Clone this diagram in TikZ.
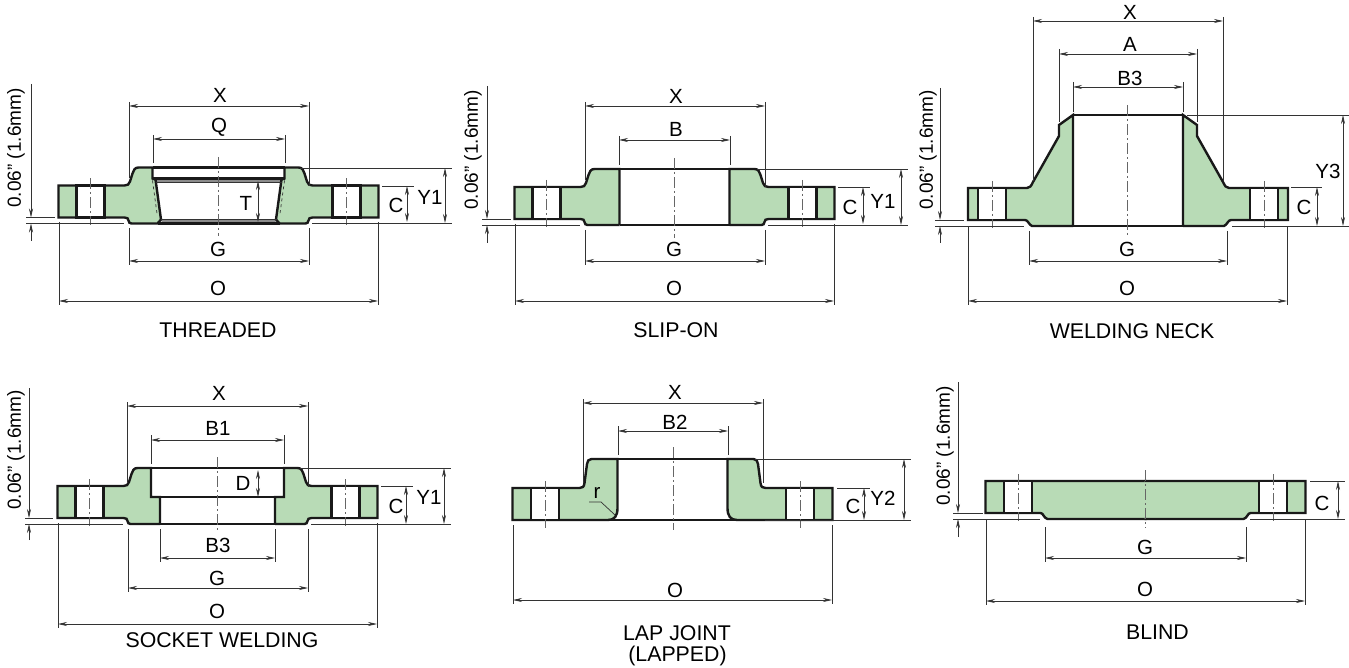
\documentclass[tikz,border=0pt]{standalone}
\usepackage{fontspec}
\setmainfont{Liberation Sans}
\usetikzlibrary{arrows.meta}
\definecolor{flgreen}{HTML}{B8DBB6}
\tikzset{
  edge/.style={line width=2.4pt,black!90},
  thin line/.style={line width=0.7pt,black!80},
  dim/.style={thin line,{Stealth[length=9pt,width=4pt]}-{Stealth[length=9pt,width=4pt]}},
  gaparrow/.style={thin line,-{Stealth[length=9pt,width=4pt]}},
  axis/.style={line width=0.8pt,black!60,dash pattern=on 11pt off 3pt on 2pt off 3pt},
  lbl/.style={inner sep=0pt,font=\fontsize{20.5}{24}\selectfont},
  title/.style={inner sep=0pt,font=\fontsize{21.3}{24}\selectfont},
  gaplbl/.style={inner sep=0pt,rotate=90,font=\fontsize{19}{22}\selectfont}
}
% hub shoulder and raised face, used by the first flanges
\newcommand{\hubedge}{.. controls (84,-56) and (85,-53) .. (86,-50) -- (88.5,-42) .. controls (89.5,-39) and (91,-38) .. (94,-38)}
\newcommand{\faceedge}{-- (94,-6) .. controls (91,-6) and (90.5,-5) .. (90,-3) .. controls (89.5,-1) and (89,0) .. (87,0)}
% #1 hole offset, #2 profile up to the rim, #3 profile after the rim
\newcommand{\flangehalf}[3]{
  \foreach \s in {-1,1} {
    \begin{scope}[xscale=\s]
      \draw[edge,fill=flgreen] #2 -- (160,-38) -- (160,-6) #3;
      \draw[edge,fill=white] (#1-14,-38) rectangle (#1+14,-6);
      \draw[axis] (#1,-45) -- (#1,2);
    \end{scope}
  }
}
\begin{document}
\begin{tikzpicture}[x=1pt,y=-1pt]
  \useasboundingbox (0,0) rectangle (1349,668);

  % threaded
  \begin{scope}[shift={(218.5,223.5)}]
    \fill[black!45] (-63,-45) rectangle (63,-41) (-57,-4) rectangle (57,0);
    \flangehalf{128}{(63,-44) -- (66,-45) -- (66,-56) -- (80,-56) \hubedge}{\faceedge -- (61,0) -- (57.5,-4) -- (63,-44)}
    \foreach \s in {-1,1} \draw[thin line,dashed,xscale=\s] (66,-43) -- (61.5,-10);
    \draw[edge] (-66,-56) -- (66,-56);
    \draw[edge] (-66,-45) -- (66,-45);
    \draw[thin line] (-63,-41) -- (63,-41);
    \draw[thin line] (-58,-4) -- (58,-4);
    \draw[edge] (-61,0) -- (61,0);
  \end{scope}
  \draw[axis] (218.5,157) -- (218.5,236);
  \foreach \xa/\ya/\yb in {129/102/178,309/102/186,153/135/163,285/135/163,129/228/265,309/228/265,59/222/305,378/222/305} \draw[thin line] (\xa,\ya) -- (\xa,\yb);
  \foreach \ya/\xa/\xb in {168/300/452,223/312/452,186/382/414} \draw[thin line] (\xa,\ya) -- (\xb,\ya);
  \draw[dim] (129,106) -- (309,106);
  \draw[dim] (153,139) -- (285,139);
  \draw[dim] (129,261) -- (309,261);
  \draw[dim] (59,301) -- (378,301);
  \draw[dim] (258,181) -- (258,222);
  \draw[dim] (407,186) -- (407,222);
  \draw[dim] (445,168) -- (445,223);
  \node[lbl] (threadX) at (220,95) {X};
  \node[lbl] (threadQ) at (219,127) {Q};
  \node[lbl] (threadT) at (246,203) {T};
  \node[lbl] (threadG) at (218,249) {G};
  \node[lbl] (threadO) at (218,288) {O};
  \node[lbl] (threadC) at (396,205) {C};
  \node[lbl] (threadY) at (430,197) {Y1};
  \node[title] (threadName) at (218,330) {THREADED};

  % slip-on
  \begin{scope}[shift={(674.5,225)}]
    \flangehalf{128}{(55,0) -- (55,-56) -- (80,-56) \hubedge}{\faceedge -- (55,0)}
    \draw[edge] (-55,-56) -- (55,-56);
    \draw[edge] (-55,0) -- (55,0);
  \end{scope}
  \draw[axis] (674.5,158) -- (674.5,238);
  \foreach \xa/\ya/\yb in {585/102/180,765/102/187,619/136/165,730/136/165,585/230/265,765/230/265,515/224/305,834/224/305} \draw[thin line] (\xa,\ya) -- (\xa,\yb);
  \foreach \ya/\xa/\xb in {169/757/908,225/768/908,187/838/870} \draw[thin line] (\xa,\ya) -- (\xb,\ya);
  \draw[dim] (585,106) -- (765,106);
  \draw[dim] (619,140) -- (730,140);
  \draw[dim] (585,261) -- (765,261);
  \draw[dim] (515,301) -- (834,301);
  \draw[dim] (863,187) -- (863,224);
  \draw[dim] (901,169) -- (901,225);
  \node[lbl] (slipX) at (676,96) {X};
  \node[lbl] (slipB) at (676,129) {B};
  \node[lbl] (slipG) at (674,249) {G};
  \node[lbl] (slipO) at (674,288) {O};
  \node[lbl] (slipC) at (850,207) {C};
  \node[lbl] (slipY) at (883,201) {Y1};
  \node[title] (slipName) at (676,330) {SLIP-ON};

  % welding neck
  \begin{scope}[shift={(1128,226)}]
    \flangehalf{136}{(55,0) -- (55,-111) -- (69,-101) -- (69,-90) -- (95,-44) .. controls (97,-40) and (98,-38) .. (101,-38)}{-- (103,-6) .. controls (100,-6) and (99,-1) .. (96,0) -- (55,0)}
    \draw[edge] (-55,-111) -- (55,-111);
    \draw[edge] (-55,0) -- (55,0);
  \end{scope}
  \draw[axis] (1127.5,105) -- (1127.5,235);
  \foreach \xa/\ya/\yb in {1033/17/181,1223/17/181,1059/49/122,1197/49/122,1073/82/112,1183/82/112,1029/231/265,1227/231/265,968/226/305,1287/226/305} \draw[thin line] (\xa,\ya) -- (\xa,\yb);
  \foreach \ya/\xa/\xb in {115/1187/1349,226/1232/1349,187/1291/1322} \draw[thin line] (\xa,\ya) -- (\xb,\ya);
  \draw[dim] (1033,21) -- (1223,21);
  \draw[dim] (1059,54) -- (1197,54);
  \draw[dim] (1073,87) -- (1183,87);
  \draw[dim] (1029,261) -- (1227,261);
  \draw[dim] (968,301) -- (1287,301);
  \draw[dim] (1317,187) -- (1317,226);
  \draw[dim] (1343,115) -- (1343,226);
  \node[lbl] (neckX) at (1130,12) {X};
  \node[lbl] (neckA) at (1130,44) {A};
  \node[lbl] (neckB) at (1130,78) {B3};
  \node[lbl] (neckG) at (1127,249) {G};
  \node[lbl] (neckO) at (1127,288) {O};
  \node[lbl] (neckC) at (1304,207) {C};
  \node[lbl] (neckY) at (1328,171) {Y3};
  \node[title] (neckName) at (1132,331) {WELDING NECK};

  % socket welding
  \begin{scope}[shift={(217.5,524)}]
    \flangehalf{128}{(57.5,0) -- (57.5,-27) -- (66.5,-27) -- (66.5,-56) -- (80,-56) \hubedge}{\faceedge -- (57.5,0)}
    \draw[edge] (-66.5,-56) -- (66.5,-56);
    \draw[edge] (-66.5,-27) -- (66.5,-27);
    \draw[edge] (-57.5,0) -- (57.5,0);
  \end{scope}
  \draw[axis] (217.5,457) -- (217.5,533);
  \foreach \xa/\ya/\yb in {127/402/482,308/402/487,151/435/464,284/435/464,160/529/562,275/529/562,128/529/592,308/529/592,58/523/628,377/523/628} \draw[thin line] (\xa,\ya) -- (\xa,\yb);
  \foreach \ya/\xa/\xb in {468/300/451,524/311/451,486/381/413} \draw[thin line] (\xa,\ya) -- (\xb,\ya);
  \draw[dim] (127,406) -- (308,406);
  \draw[dim] (151,440) -- (284,440);
  \draw[dim] (160,558) -- (275,558);
  \draw[dim] (128,588) -- (308,588);
  \draw[dim] (58,624) -- (377,624);
  \draw[dim] (258,470) -- (258,497);
  \draw[dim] (406,486) -- (406,524);
  \draw[dim] (444,468) -- (444,524);
  \node[lbl] (sockX) at (219,393) {X};
  \node[lbl] (sockBa) at (218,428) {B1};
  \node[lbl] (sockD) at (243,483) {D};
  \node[lbl] (sockBc) at (218,545) {B3};
  \node[lbl] (sockG) at (217,578) {G};
  \node[lbl] (sockO) at (217,611) {O};
  \node[lbl] (sockC) at (396,506) {C};
  \node[lbl] (sockY) at (429,497) {Y1};
  \node[title] (sockName) at (222,640) {SOCKET WELDING};

  % lap joint
  \begin{scope}[shift={(672.5,526)}]
    \flangehalf{127.5}{(64.5,-6) .. controls (58,-6) and (55,-10) .. (55,-18) -- (55,-67) -- (81,-67) .. controls (84,-67) and (85,-65) .. (85.5,-62) -- (88,-43) .. controls (88.5,-39) and (90,-38) .. (93,-38)}{-- (64.5,-6)}
    \draw[edge] (-55,-67) -- (55,-67);
    \draw[edge] (-64.5,-6) -- (64.5,-6);
  \end{scope}
  \draw[axis] (673,447) -- (673,530);
  \foreach \xa/\ya/\yb in {583/399/483,763/399/483,618/426/455,728/426/455,513/525/604,832/525/604} \draw[thin line] (\xa,\ya) -- (\xa,\yb);
  \foreach \ya/\xa/\xb in {459/755/911,520/765/911,488/837/870} \draw[thin line] (\xa,\ya) -- (\xb,\ya);
  \draw[thin line] (589,502) -- (601,502) -- (615,515);
  \draw[dim] (583,403) -- (763,403);
  \draw[dim] (618,431) -- (728,431);
  \draw[dim] (513,600) -- (832,600);
  \draw[dim] (864,488) -- (864,520);
  \draw[dim] (904,459) -- (904,520);
  \node[lbl] (lapX) at (675,392) {X};
  \node[lbl] (lapB) at (675,422) {B2};
  \node[lbl] (lapR) at (597,493) {r};
  \node[lbl] (lapO) at (675,590) {O};
  \node[lbl] (lapC) at (853,506) {C};
  \node[lbl] (lapY) at (883,498) {Y2};
  \node[title] (lapName) at (677,633) {LAP JOINT};
  \node[title] (lapNameb) at (677.5,656) {(LAPPED)};

  % blind
  \begin{scope}[shift={(1145.5,519)}]
    \flangehalf{127.5}{(-1,-38)}{-- (105,-6) .. controls (102,-6) and (102,-1) .. (98,0) -- (-1,0)}
  \end{scope}
  \draw[axis] (1145.5,470) -- (1145.5,528);
  \foreach \xa/\ya/\yb in {1045/527/562,1246/527/562,986/519/605,1305/519/605} \draw[thin line] (\xa,\ya) -- (\xa,\yb);
  \foreach \ya/\xa/\xb in {481/1310/1345,519/1250/1345} \draw[thin line] (\xa,\ya) -- (\xb,\ya);
  \draw[dim] (1045,558) -- (1246,558);
  \draw[dim] (986,601) -- (1305,601);
  \draw[dim] (1338,481) -- (1338,519);
  \node[lbl] (blindG) at (1145,547) {G};
  \node[lbl] (blindO) at (1145,589) {O};
  \node[lbl] (blindC) at (1322,503) {C};
  \node[title] (blindName) at (1157.5,632) {BLIND};

  % the 0.06 inch step beside each flange
  \foreach \n/\xa/\ytop/\yf/\yr/\yend/\xl/\xf/\xr/\xt/\yt in {a/31/84/217.5/223.5/241/26/55/124/16/148,b/487/86/219/225/243/482/511/580/473/150,c/940/88/220/226/243/935/964/1024/928/150,d/29/388/518/524/540/25/53/123/16/450,e/958/382/513/519/537/953/983/1040/945/446} {
    \draw[gaparrow] (\xa,\ytop) -- (\xa,\yf);
    \draw[gaparrow] (\xa,\yend) -- (\xa,\yr);
    \draw[thin line] (\xl,\yf) -- (\xf,\yf);
    \draw[thin line] (\xl,\yr) -- (\xr,\yr);
    \node[gaplbl] (gap\n) at (\xt,\yt) {0.06" (1.6mm)};
  }
\end{tikzpicture}
\end{document}
